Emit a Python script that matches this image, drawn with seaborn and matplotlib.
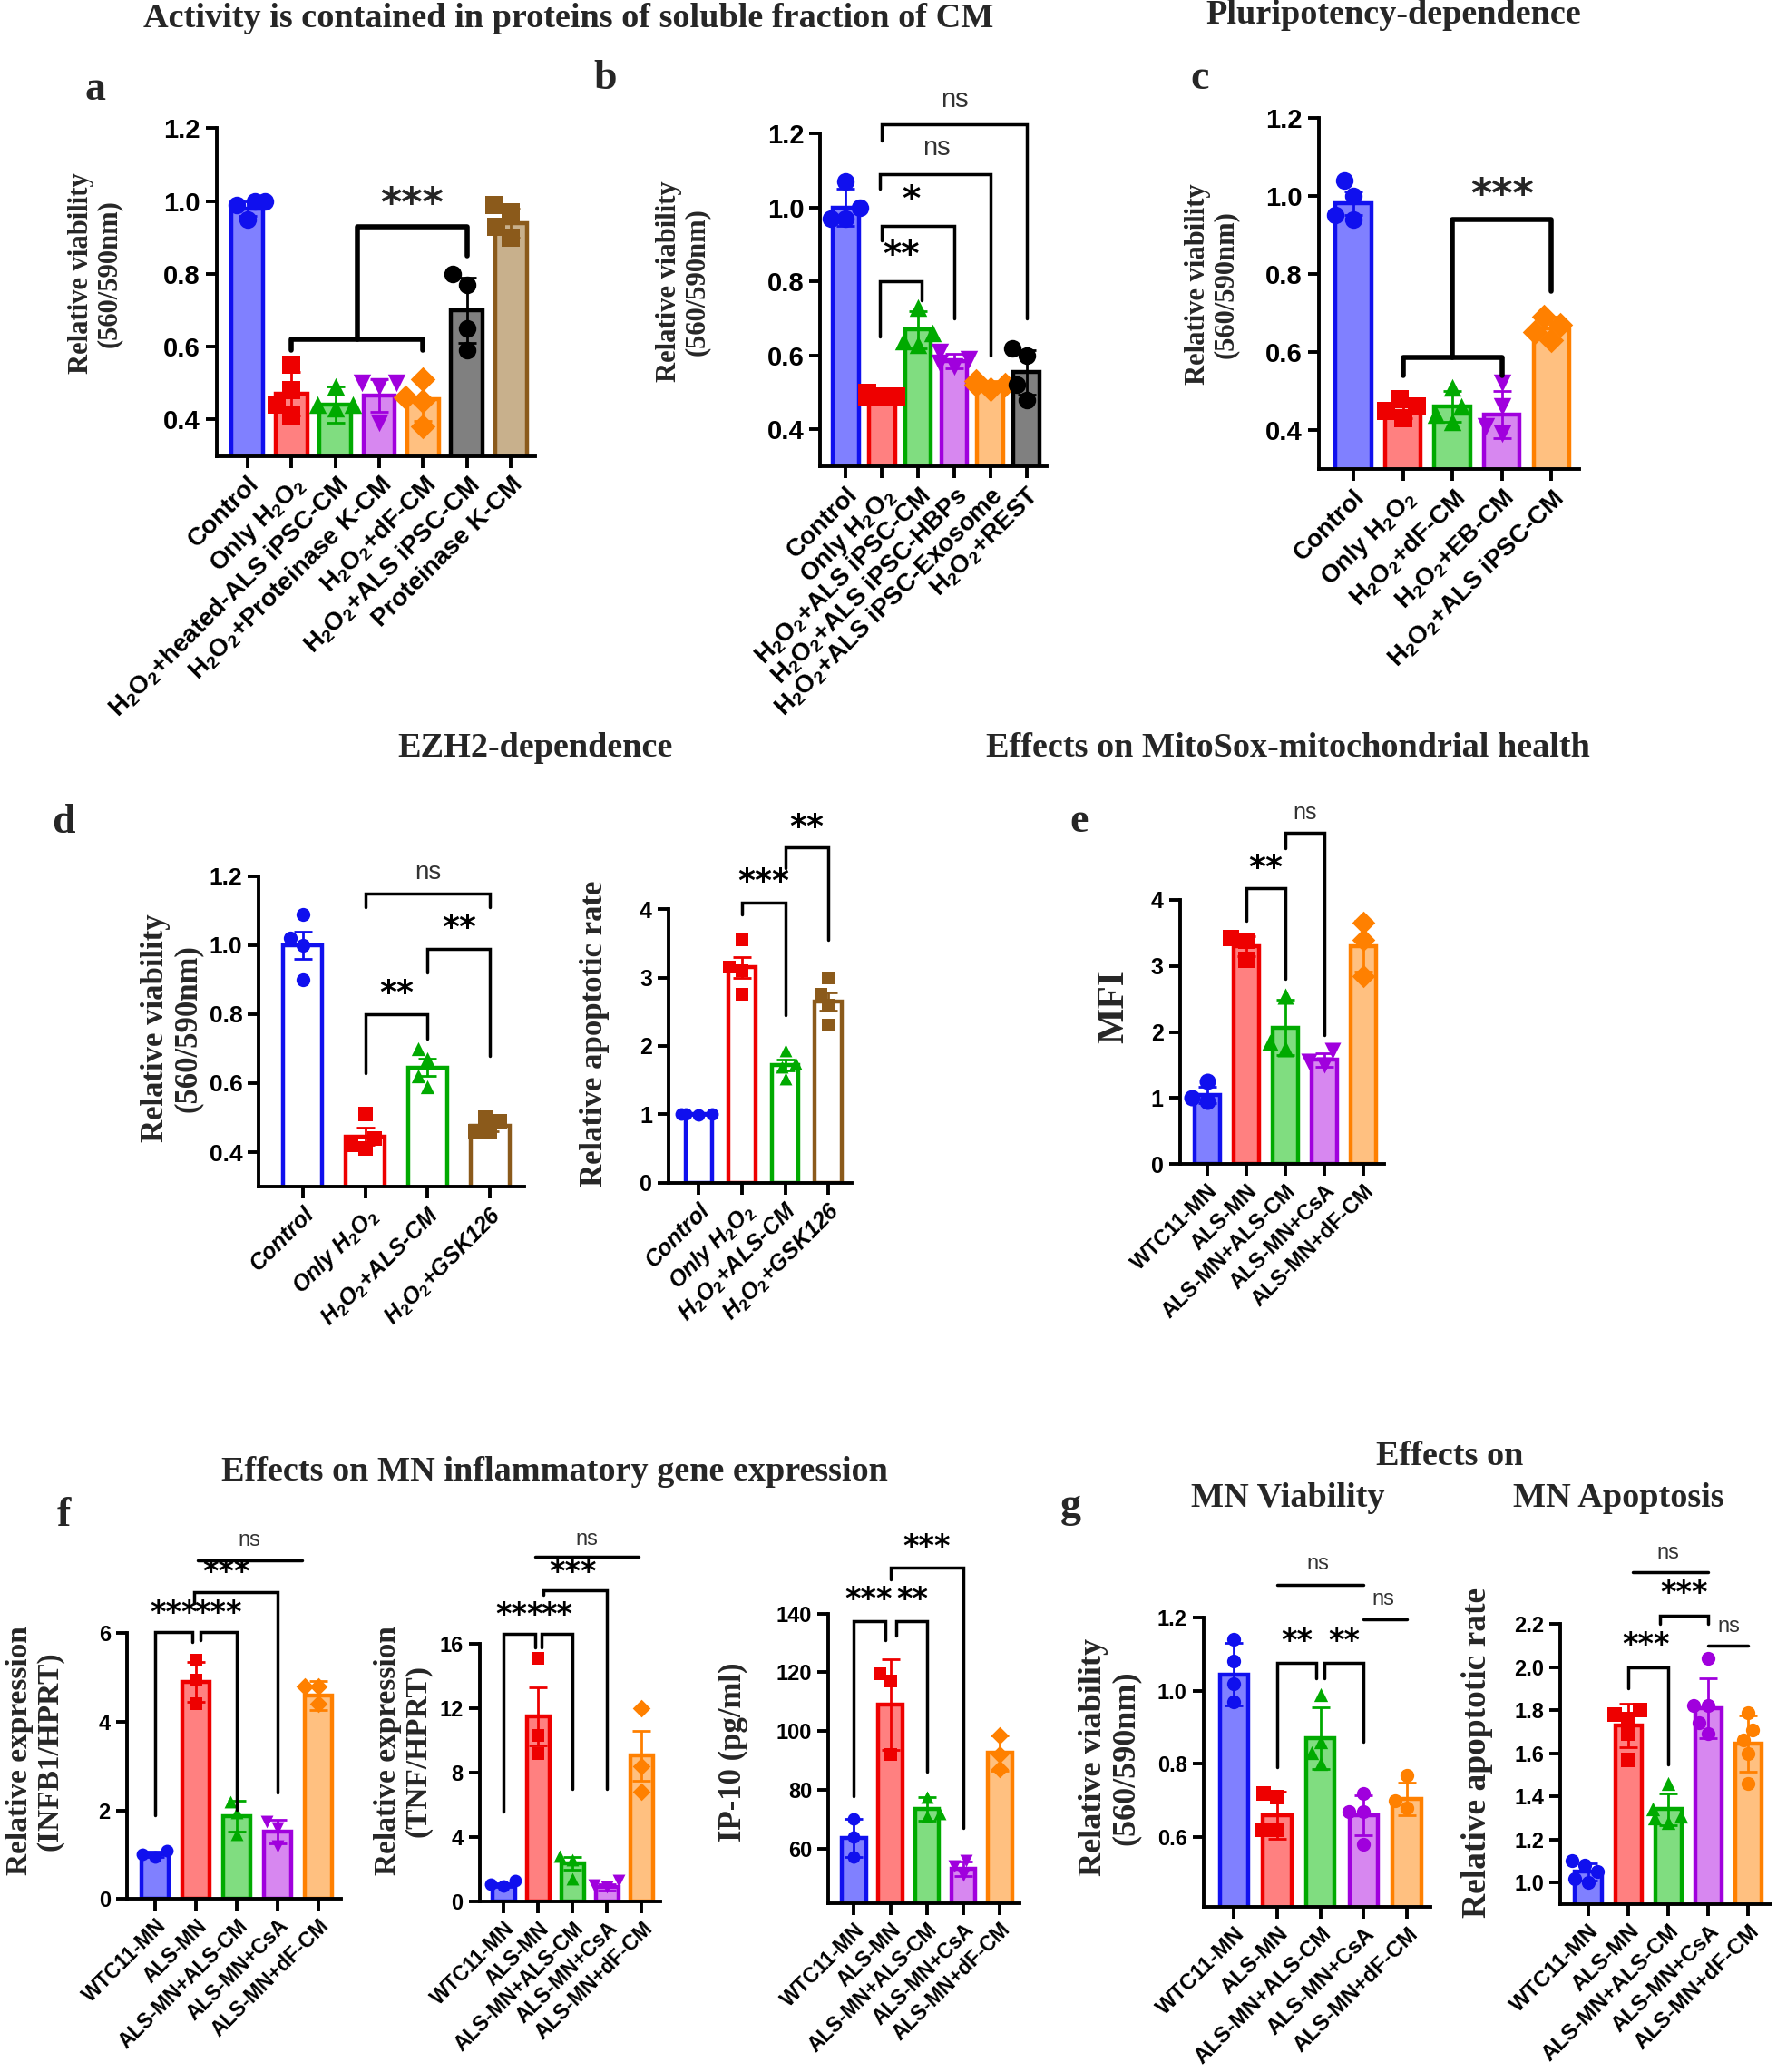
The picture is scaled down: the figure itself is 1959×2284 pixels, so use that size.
import warnings
import numpy as np
import pandas as pd
import matplotlib
matplotlib.use("Agg")
import matplotlib.pyplot as plt
import seaborn as sns

warnings.filterwarnings("ignore")

# ---------------------------------------------------------------- data
A_CATS = ["Control", "Only H$_2$O$_2$", "H$_2$O$_2$+heated-ALS iPSC-CM",
          "H$_2$O$_2$+Proteinase K-CM", "H$_2$O$_2$+dF-CM", "H$_2$O$_2$+ALS iPSC-CM",
          "Proteinase K-CM"]
A_MEAN = [0.98, 0.47, 0.44, 0.465, 0.455, 0.70, 0.94]
A_ERR = [0.02, 0.06, 0.05, 0.045, 0.06, 0.09, 0.04]
A_PTS = [[1.00, 1.00, 0.99, 0.95], [0.55, 0.48, 0.44, 0.41], [0.49, 0.44, 0.44, 0.43],
         [0.50, 0.50, 0.49, 0.39], [0.51, 0.46, 0.45, 0.38], [0.80, 0.77, 0.65, 0.59],
         [0.99, 0.97, 0.93, 0.90]]

B_CATS = ["Control", "Only H$_2$O$_2$", "H$_2$O$_2$+ALS iPSC-CM", "H$_2$O$_2$+ALS iPSC-HBPs",
          "H$_2$O$_2$+ALS iPSC-Exosome", "H$_2$O$_2$+REST"]
B_MEAN = [1.00, 0.49, 0.67, 0.585, 0.52, 0.555]
B_ERR = [0.05, 0.01, 0.05, 0.02, 0.012, 0.06]
B_PTS = [[1.07, 1.00, 0.97, 0.97], [0.50, 0.49, 0.49, 0.49], [0.73, 0.66, 0.64, 0.63],
         [0.61, 0.59, 0.58, 0.57], [0.53, 0.52, 0.52, 0.51], [0.62, 0.60, 0.52, 0.48]]

C_CATS = ["Control", "Only H$_2$O$_2$", "H$_2$O$_2$+dF-CM", "H$_2$O$_2$+EB-CM",
          "H$_2$O$_2$+ALS iPSC-CM"]
C_MEAN = [0.98, 0.45, 0.46, 0.44, 0.66]
C_ERR = [0.03, 0.02, 0.04, 0.06, 0.03]
C_PTS = [[1.04, 1.00, 0.95, 0.94], [0.48, 0.46, 0.45, 0.43], [0.51, 0.46, 0.44, 0.42],
         [0.52, 0.46, 0.41, 0.39], [0.69, 0.67, 0.65, 0.63]]

D_CATS = ["Control", r"Only $\mathit{H_2O_2}$", r"$\mathit{H_2O_2}$+ALS-CM",
          r"$\mathit{H_2O_2}$+GSK126"]
D1_MEAN = [1.00, 0.445, 0.645, 0.475]
D1_ERR = [0.04, 0.025, 0.025, 0.015]
D1_PTS = [[1.09, 1.02, 1.00, 0.90], [0.51, 0.44, 0.42, 0.41], [0.70, 0.67, 0.62, 0.59],
          [0.50, 0.49, 0.46, 0.46]]
D2_MEAN = [1.00, 3.15, 1.72, 2.65]
D2_ERR = [0.01, 0.15, 0.08, 0.13]
D2_PTS = [[1.01, 1.00, 1.00, 0.99], [3.55, 3.15, 3.10, 2.75], [1.93, 1.75, 1.70, 1.52],
          [3.00, 2.75, 2.60, 2.30]]

MN_CATS = ["WTC11-MN", "ALS-MN", "ALS-MN+ALS-CM", "ALS-MN+CsA", "ALS-MN+dF-CM"]
E_MEAN = [1.05, 3.30, 2.07, 1.58, 3.30]
E_ERR = [0.12, 0.15, 0.42, 0.10, 0.38]
E_PTS = [[1.25, 1.00, 0.95], [3.42, 3.38, 3.10], [2.55, 1.85, 1.75], [1.72, 1.55, 1.50],
         [3.65, 3.40, 2.85]]

F1_MEAN = [1.00, 4.90, 1.87, 1.52, 4.60]
F1_ERR = [0.06, 0.45, 0.35, 0.27, 0.33]
F1_PTS = [[1.10, 1.00, 0.95], [5.40, 4.95, 4.40], [2.20, 1.95, 1.45], [1.75, 1.60, 1.20],
          [4.80, 4.80, 4.40]]
F2_MEAN = [1.00, 11.50, 2.35, 0.90, 9.05]
F2_ERR = [0.12, 1.80, 0.40, 0.20, 1.55]
F2_PTS = [[1.30, 1.05, 0.95], [15.10, 10.30, 9.20], [2.80, 2.60, 1.40], [1.30, 1.00, 0.90],
          [12.00, 8.40, 6.80]]
F3_MEAN = [63.5, 109.0, 73.5, 53.0, 92.5]
F3_ERR = [6.5, 15.5, 4.0, 2.5, 6.0]
F3_PTS = [[70.0, 64.0, 57.0], [119.5, 117.0, 92.0], [77.5, 72.0, 71.0], [56.0, 54.0, 51.0],
          [98.5, 92.0, 87.0]]

G1_MEAN = [1.045, 0.66, 0.87, 0.66, 0.705]
G1_ERR = [0.085, 0.065, 0.085, 0.055, 0.045]
G1_PTS = [[1.14, 1.08, 1.02, 0.97], [0.72, 0.71, 0.62, 0.62], [0.99, 0.86, 0.83, 0.80],
          [0.72, 0.67, 0.67, 0.58], [0.77, 0.70, 0.68]]
G2_MEAN = [1.05, 1.73, 1.34, 1.81, 1.645]
G2_ERR = [0.04, 0.10, 0.075, 0.14, 0.13]
G2_PTS = [[1.10, 1.08, 1.05, 1.02, 1.00], [1.80, 1.78, 1.76, 1.69, 1.57],
          [1.46, 1.34, 1.31, 1.30, 1.28], [2.04, 1.82, 1.82, 1.74, 1.69],
          [1.79, 1.71, 1.66, 1.60, 1.46]]

# ---------------------------------------------------------------- style
sns.set_theme(style="ticks")
plt.rcParams["font.family"] = ["Liberation Sans", "DejaVu Sans"]
plt.rcParams["font.weight"] = "bold"
plt.rcParams["axes.linewidth"] = 2.5
plt.rcParams["mathtext.fontset"] = "custom"
plt.rcParams["mathtext.rm"] = "Liberation Sans:bold"
plt.rcParams["mathtext.bf"] = "Liberation Sans:bold"
plt.rcParams["mathtext.it"] = "Liberation Sans:italic:bold"
plt.rcParams["mathtext.sf"] = "Liberation Sans:bold"
plt.rcParams["mathtext.default"] = "rm"

BLUE, RED, GREEN, PURPLE, ORANGE, BLACK, BROWN = ("#1010EE", "#EE0000", "#00AA00", "#A000DD",
                                                  "#FF8000", "#000000", "#8B5A1B")
FILL = {BLUE: "#8080FF", RED: "#FF8080", GREEN: "#80DD80", PURPLE: "#D787F0",
        ORANGE: "#FFC080", BLACK: "#808080", BROWN: "#C8B08C"}
MN_EDGE = [BLUE, RED, GREEN, PURPLE, ORANGE]
MN_MARK = ["o", "s", "^", "v", "D"]
SERIF = ["Liberation Serif", "DejaVu Serif"]

W, H = 1345.0, 1568.0
fig = plt.figure(figsize=(19.59, 22.84), dpi=100)
fig.patch.set_facecolor("white")


def fx(x):
    return x / W


def fy(y):
    return 1 - y / H


def panel(box, cats, means, errs, pts, edges, markers, ylim, yticks, fmt,
          xfs, yfs, ms, bw=0.68, italic=False, open_bars=False):
    x0, yt, x1, yb = box
    ax = fig.add_axes([fx(x0), fy(yb), fx(x1) - fx(x0), fy(yt) - fy(yb)])
    n = len(cats)
    fills = ["white" if open_bars else FILL[e] for e in edges]
    df = pd.DataFrame({"g": cats, "v": means})
    sns.barplot(data=df, x="g", y="v", hue="g", order=cats, hue_order=cats,
                palette=fills, legend=False, errorbar=None, width=bw,
                saturation=1, ax=ax)
    for i, cont in enumerate(ax.containers):
        for p in cont:
            p.set_edgecolor(edges[i])
            p.set_facecolor(fills[i])
            p.set_linewidth(3.2)
    for i in range(n):
        ax.errorbar(i, means[i], yerr=errs[i], fmt="none", ecolor=edges[i],
                    elinewidth=2, capsize=7, capthick=2, zorder=3)
    for i in range(n):
        sns.swarmplot(x=[cats[i]] * len(pts[i]), y=pts[i], order=cats,
                      color=edges[i], marker=markers[i], size=ms, ax=ax,
                      zorder=4, warn_thresh=1, linewidth=0)
    ax.set_xlim(-0.7, n - 0.45)
    ax.set_ylim(*ylim)
    ax.set_yticks(yticks)
    ax.set_yticklabels([fmt.format(t) for t in yticks], fontsize=yfs, fontweight="bold")
    ax.set_xticks(range(n))
    ax.set_xticklabels(cats, rotation=45, ha="right", rotation_mode="anchor",
                       fontsize=xfs, fontweight="bold",
                       fontstyle="italic" if italic else "normal")
    ax.set_xlabel("")
    ax.set_ylabel("")
    for s in ["top", "right"]:
        ax.spines[s].set_visible(False)
    for s in ["left", "bottom"]:
        ax.spines[s].set_linewidth(2.8)
        ax.spines[s].set_color("black")
    ax.tick_params(axis="both", direction="out", length=9, width=2.8, colors="black", pad=4)
    ax.set_facecolor("white")
    return ax


def br(ax, x1, x2, y, l1, l2, txt, ty, tx=None, fs=28):
    ax.plot([x1, x1, x2, x2], [l1, y, y, l2], color="black", lw=2.5,
            clip_on=False, zorder=6, solid_joinstyle="miter")
    isns = txt == "ns"
    ax.text((x1 + x2) / 2 if tx is None else tx, ty, txt, ha="center", va="center",
            fontsize=fs, fontweight="normal" if isns else "bold",
            color="#333333" if isns else "black", clip_on=False,
            family=["Liberation Sans"] if isns else ["DejaVu Sans"])


def line(ax, x1, x2, y, txt, ty, tx=None, fs=18):
    ax.plot([x1, x2], [y, y], color="black", lw=2.5, clip_on=False, zorder=6)
    ax.text((x1 + x2) / 2 if tx is None else tx, ty, txt, ha="center", va="center",
            fontsize=fs, fontweight="normal", color="#333333", clip_on=False)


def gbr(ax, xa, xb, ylow, leg, xc, yhigh, legc, txt, ty, tx, fs=32):
    ax.plot([xa, xa, xb, xb], [leg, ylow, ylow, leg], color="black", lw=4,
            clip_on=False, zorder=6)
    xm = (xa + xb) / 2
    ax.plot([xm, xm, xc, xc], [ylow, yhigh, yhigh, legc], color="black", lw=4,
            clip_on=False, zorder=6)
    ax.text(tx, ty, txt, ha="center", va="center", fontsize=fs, fontweight="bold",
            family=["DejaVu Sans"], clip_on=False)


def ylab(x, y, txt, fs):
    fig.text(fx(x), fy(y), txt, rotation=90, ha="center", va="center", fontsize=fs,
             family=SERIF, fontweight="bold", multialignment="center", linespacing=1.1)


def ftext(x, y, txt, fs):
    fig.text(fx(x), fy(y), txt, ha="center", va="center", fontsize=fs,
             family=SERIF, fontweight="bold")


V_TICKS = [0.4, 0.6, 0.8, 1.0, 1.2]

# ---------------------------------------------------------------- panel a
ax = panel((164, 97, 405, 345), A_CATS, A_MEAN, A_ERR, A_PTS,
           [BLUE, RED, GREEN, PURPLE, ORANGE, BLACK, BROWN],
           ["o", "s", "^", "v", "D", "o", "s"], (0.3, 1.2), V_TICKS, "{:.1f}",
           20, 21, 14, bw=0.72)
gbr(ax, 1, 4, 0.62, 0.59, 5, 0.93, 0.85, "***", 0.99, 3.75)

# ---------------------------------------------------------------- panel b
ax = panel((621, 101, 792, 353), B_CATS, B_MEAN, B_ERR, B_PTS,
           [BLUE, RED, GREEN, PURPLE, ORANGE, BLACK],
           ["o", "s", "^", "v", "D", "o"], (0.3, 1.2), V_TICKS, "{:.1f}",
           20, 21, 14, bw=0.72)
br(ax, 0.95, 2.1, 0.80, 0.65, 0.75, "**", 0.87)
br(ax, 1.0, 3, 0.95, 0.91, 0.70, "*", 1.02, tx=1.8)
br(ax, 0.95, 4, 1.09, 1.05, 0.60, "ns", 1.16, tx=2.5, fs=21)
br(ax, 1.0, 5, 1.225, 1.18, 0.70, "ns", 1.29, tx=3.0, fs=21)

# ---------------------------------------------------------------- panel c
ax = panel((998, 89, 1195, 355), C_CATS, C_MEAN, C_ERR, C_PTS,
           [BLUE, RED, GREEN, PURPLE, ORANGE], ["o", "s", "^", "v", "D"],
           (0.3, 1.2), V_TICKS, "{:.1f}", 20, 21, 14, bw=0.72)
gbr(ax, 1, 3, 0.585, 0.54, 4, 0.94, 0.755, "***", 1.0, 3.0)

# ---------------------------------------------------------------- panel d
ax = panel((196, 663, 397, 898), D_CATS, D1_MEAN, D1_ERR, D1_PTS,
           [BLUE, RED, GREEN, BROWN], ["o", "s", "^", "s"], (0.3, 1.2), V_TICKS,
           "{:.1f}", 18, 19, 11, bw=0.62, italic=True, open_bars=True)
br(ax, 1, 2, 0.80, 0.63, 0.73, "**", 0.86, fs=26)
br(ax, 2, 3, 0.99, 0.92, 0.68, "**", 1.05, fs=26)
br(ax, 1, 3, 1.15, 1.11, 1.11, "ns", 1.21, fs=20)

ax = panel((506, 688, 645, 895), D_CATS, D2_MEAN, D2_ERR, D2_PTS,
           [BLUE, RED, GREEN, BROWN], ["o", "s", "^", "s"], (0, 4), [0, 1, 2, 3, 4],
           "{:d}", 18, 18, 10, bw=0.62, italic=True, open_bars=True)
br(ax, 1, 2, 4.09, 3.92, 2.45, "***", 4.4, fs=26)
br(ax, 2, 3, 4.9, 4.6, 3.55, "**", 5.2, fs=26)

# ---------------------------------------------------------------- panel e
ax = panel((893, 681, 1048, 881), MN_CATS, E_MEAN, E_ERR, E_PTS, MN_EDGE, MN_MARK,
           (0, 4), [0, 1, 2, 3, 4], "{:d}", 17, 18, 13, bw=0.66)
br(ax, 1, 2, 4.18, 3.68, 2.8, "**", 4.48, fs=26)
br(ax, 2, 3, 5.02, 4.78, 1.95, "ns", 5.32, fs=18)

# ---------------------------------------------------------------- panel f
ax = panel((96, 1236, 258, 1437), MN_CATS, F1_MEAN, F1_ERR, F1_PTS, MN_EDGE, MN_MARK,
           (0, 6), [0, 2, 4, 6], "{:d}", 16.5, 17, 10, bw=0.66)
br(ax, 0, 0.9, 6.03, 1.88, 5.8, "***", 6.45, tx=0.45, fs=24)
br(ax, 1.1, 2, 6.03, 5.85, 2.02, "***", 6.45, tx=1.55, fs=24)
br(ax, 0.95, 3, 6.93, 6.68, 2.4, "***", 7.37, tx=1.75, fs=24)
line(ax, 1.05, 3.6, 7.65, "ns", 8.1, tx=2.3, fs=17)

ax = panel((363, 1244, 500, 1439), MN_CATS, F2_MEAN, F2_ERR, F2_PTS, MN_EDGE, MN_MARK,
           (0, 16), [0, 4, 8, 12, 16], "{:d}", 16.5, 17, 10, bw=0.66)
br(ax, 0, 0.9, 16.65, 5.6, 15.75, "***", 17.8, tx=0.45, fs=24)
br(ax, 1.1, 2, 16.65, 15.75, 7.0, "**", 17.8, tx=1.55, fs=24)
br(ax, 1.15, 3, 19.3, 19.05, 7.0, "***", 20.45, tx=2.0, fs=24)
line(ax, 0.9, 3.9, 21.4, "ns", 22.5, tx=2.4, fs=17)

ax = panel((627, 1221, 772, 1440), MN_CATS, F3_MEAN, F3_ERR, F3_PTS, MN_EDGE, MN_MARK,
           (41.5, 140), [60, 80, 100, 120, 140], "{:d}", 16.5, 17, 10, bw=0.66)
br(ax, 0, 0.85, 137.3, 77.8, 130.8, "***", 144.7, tx=0.4, fs=24)
br(ax, 1.15, 2, 137.3, 132.6, 86, "**", 144.7, tx=1.6, fs=24)
br(ax, 1.0, 3, 155.5, 151.5, 67, "***", 162.7, tx=2.0, fs=24)

# ---------------------------------------------------------------- panel g
ax = panel((911, 1224, 1083, 1443), MN_CATS, G1_MEAN, G1_ERR, G1_PTS, MN_EDGE,
           ["o", "s", "^", "o", "o"], (0.41, 1.2), [0.6, 0.8, 1.0, 1.2], "{:.1f}",
           17.5, 17, 11, bw=0.66)
br(ax, 1, 1.9, 1.075, 0.79, 1.035, "**", 1.135, tx=1.45, fs=24)
br(ax, 2.1, 3, 1.075, 1.035, 0.86, "**", 1.135, tx=2.55, fs=24)
line(ax, 1, 3, 1.29, "ns", 1.345, tx=1.95, fs=17)
line(ax, 3, 4.0, 1.195, "ns", 1.25, tx=3.45, fs=17)

ax = panel((1181, 1229, 1340, 1441), MN_CATS, G2_MEAN, G2_ERR, G2_PTS, MN_EDGE,
           ["o", "s", "^", "o", "o"], (0.9, 2.2), [1.0, 1.2, 1.4, 1.6, 1.8, 2.0, 2.2],
           "{:.1f}", 17.5, 17, 11, bw=0.66)
br(ax, 1, 2, 2.0, 1.9, 1.55, "***", 2.1, tx=1.45, fs=24)
br(ax, 1.8, 3, 2.24, 2.2, 2.2, "***", 2.34, tx=2.4, fs=24)
line(ax, 1.1, 3, 2.44, "ns", 2.53, tx=2.0, fs=17)
line(ax, 3, 4, 2.10, "ns", 2.19, tx=3.5, fs=17)

# ---------------------------------------------------------------- labels
ylab(72, 207, "Relative viability\n(560/590nm)", 22)
ylab(517, 213, "Relative viability\n(560/590nm)", 22)
ylab(917, 215, "Relative viability\n(560/590nm)", 22)
ylab(130, 778, "Relative viability\n(560/590nm)", 25)
ylab(450, 782, "Relative apoptotic rate", 25)
ylab(843, 762, "MFI", 30)
ylab(26, 1325, "Relative expression\n(INFB1/HPRT)", 24)
ylab(305, 1325, "Relative expression\n(TNF/HPRT)", 24)
ylab(555, 1326, "IP-10 (pg/ml)", 25)
ylab(840, 1330, "Relative viability\n(560/590nm)", 26)
ylab(1118, 1326, "Relative apoptotic rate", 27)

ftext(430, 14, "Activity is contained in proteins of soluble fraction of CM", 27.5)
ftext(1055, 11, "Pluripotency-dependence", 27.5)
ftext(405, 566, "EZH2-dependence", 27.5)
ftext(975, 566, "Effects on MitoSox-mitochondrial health", 27.5)
ftext(420, 1114, "Effects on MN inflammatory gene expression", 27.5)
ftext(1097, 1102, "Effects on", 27.5)
ftext(975, 1134, "MN Viability", 27.5)
ftext(1225, 1134, "MN Apoptosis", 27.5)

for (lx, ly, lt) in [(72, 68, "a"), (458, 60, "b"), (908, 60, "c"), (48, 623, "d"),
                     (817, 622, "e"), (48, 1147, "f"), (810, 1140, "g")]:
    ftext(lx, ly, lt, 33)

fig.savefig("out.png", dpi=100, facecolor="white")
